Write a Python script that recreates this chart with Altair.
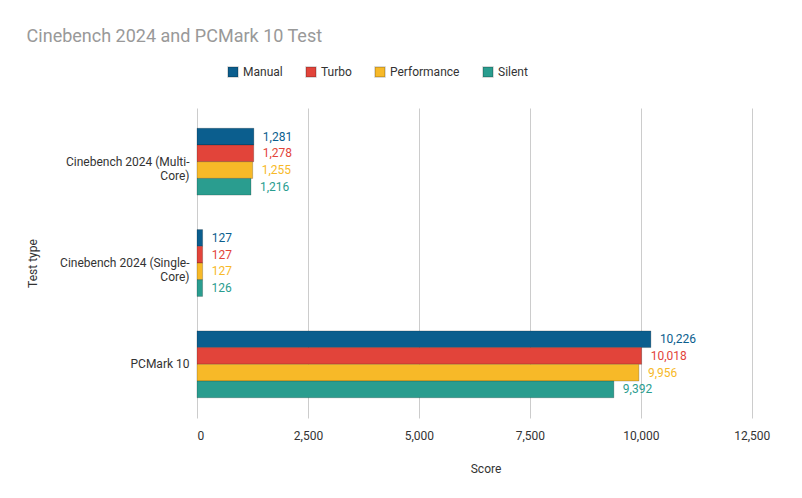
import altair as alt
import pandas as pd

tests = ["Cinebench 2024 (Multi-Core)", "Cinebench 2024 (Single-Core)", "PCMark 10"]
modes = ["Manual", "Turbo", "Performance", "Silent"]
colors = ["#0b5e8e", "#e2443a", "#f7b928", "#2a9d8f"]
scores = {
    "Manual": [1281, 127, 10226],
    "Turbo": [1278, 127, 10018],
    "Performance": [1255, 127, 9956],
    "Silent": [1216, 126, 9392],
}

rows = []
for m in modes:
    for t, v in zip(tests, scores[m]):
        rows.append({"test": t, "mode": m, "score": v})
df = pd.DataFrame(rows)

label_expr = ("datum.label == 'Cinebench 2024 (Multi-Core)' ? ['Cinebench 2024 (Multi-', 'Core)'] : "
              "datum.label == 'Cinebench 2024 (Single-Core)' ? ['Cinebench 2024 (Single-', 'Core)'] : datum.label")

color = alt.Color("mode:N", sort=modes, scale=alt.Scale(domain=modes, range=colors),
                  legend=alt.Legend(title=None, orient="none", legendX=30, legendY=-42,
                                    direction="horizontal", symbolType="square",
                                    labelFontSize=12, labelColor="#333", columnPadding=20))
y = alt.Y("test:N", sort=tests, scale=alt.Scale(paddingInner=0.34, paddingOuter=0.2),
          axis=alt.Axis(title="Test type", labelExpr=label_expr, labelFontSize=12,
                        labelColor="#333", titleFontWeight="normal", titleFontSize=12,
                        titleColor="#333", titlePadding=20, ticks=False, domain=False,
                        labelPadding=8))
yoff = alt.YOffset("mode:N", sort=modes, scale=alt.Scale(domain=modes, paddingInner=0))

base = alt.Chart(df).encode(y=y, yOffset=yoff)

bars = base.mark_bar(stroke="#00000033", strokeWidth=1).encode(
    x=alt.X("score:Q", scale=alt.Scale(domain=[0, 12500]),
            axis=alt.Axis(title="Score", values=[0, 2500, 5000, 7500, 10000, 12500],
                          labelExpr="format(datum.value, ',')",
                          labelFontSize=12, labelColor="#333", titleFontWeight="normal",
                          titleFontSize=12, titleColor="#333", titlePadding=22,
                          domain=False, ticks=False, gridColor="#cccccc", labelPadding=12)),
    color=color,
)
text = base.mark_text(align="left", dx=9, fontSize=12).encode(
    x="score:Q", text=alt.Text("score:Q", format=","), color=alt.Color("mode:N", sort=modes, legend=None,
    scale=alt.Scale(domain=modes, range=colors)))

chart = (bars + text).properties(
    width=786, height=482,
    padding={"left": 18, "top": 20, "right": 20, "bottom": 16},
    autosize=alt.AutoSizeParams(type="fit", contains="padding"),
    title=alt.TitleParams("Cinebench 2024 and PCMark 10 Test", anchor="start", fontSize=18,
                          fontWeight="normal", color="#999999", offset=62, frame="bounds"),
).configure(font="Roboto").configure_view(strokeWidth=0)

chart.save("out.html", embed_options={"renderer": "svg", "actions": False})
